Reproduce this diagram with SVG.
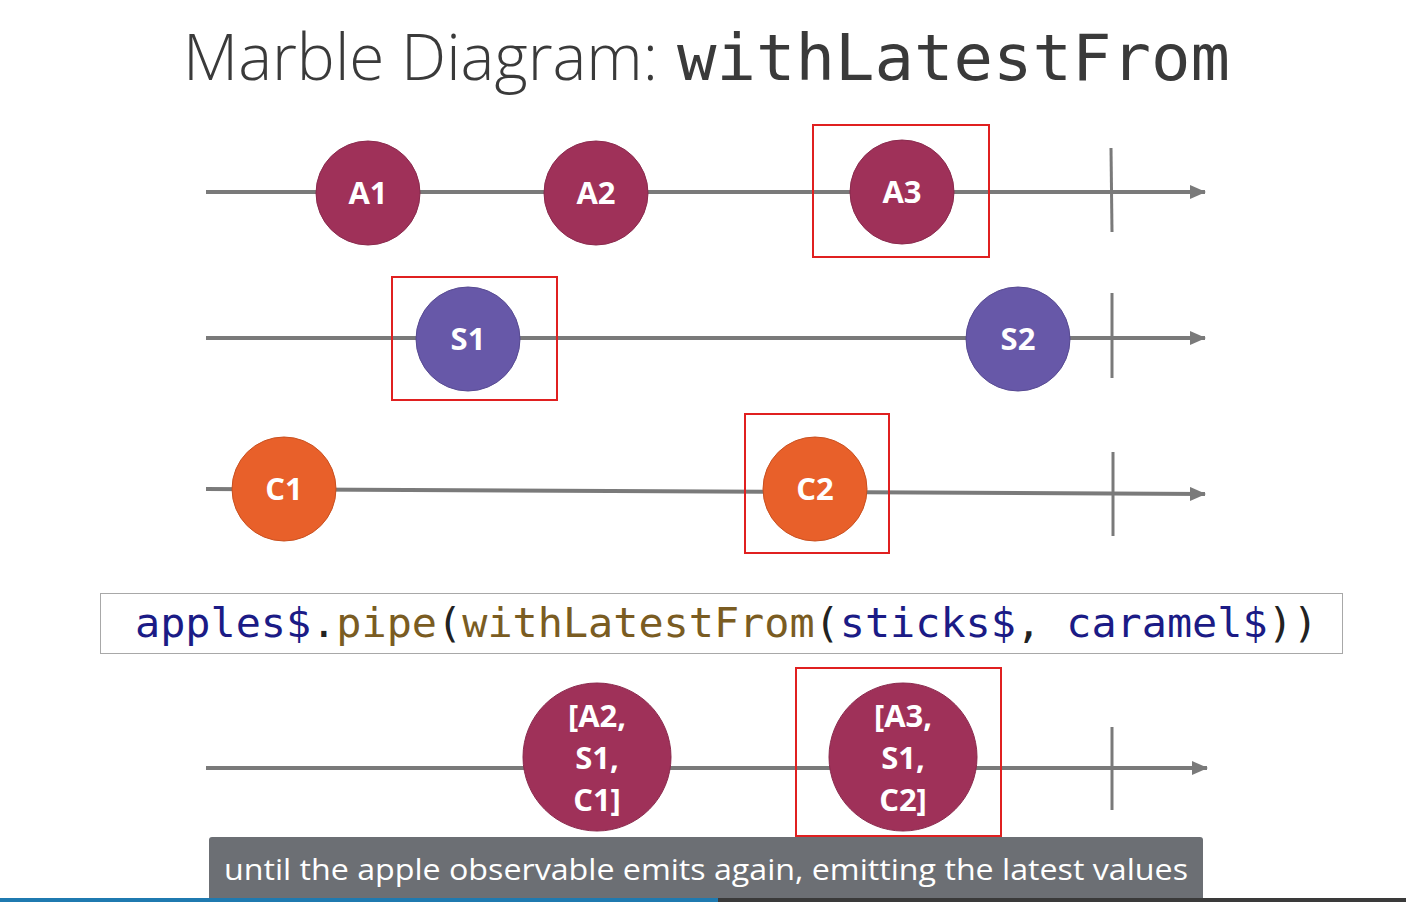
<svg xmlns="http://www.w3.org/2000/svg" width="1406" height="902" viewBox="0 0 1406 902">
<style>
.line{stroke:#7a7a7a;stroke-width:4;fill:none}
.tick{stroke:#7a7a7a;stroke-width:3;fill:none}
.hl{fill:none;stroke:#e02020;stroke-width:2}
.apple{fill:#9f3159;stroke:#8a2a4d;stroke-width:1}
.stick{fill:#6758a8;stroke:#574a92;stroke-width:1}
.caramel{fill:#e8602a;stroke:#c9501f;stroke-width:1}
.lbl{font-family:"Open Sans","Liberation Sans",sans-serif;font-weight:700;font-size:31px;fill:#fff;text-anchor:middle}
.code{font-family:"DejaVu Sans Mono","Liberation Mono",monospace;font-size:41px}
</style>
<defs>
<marker id="arr" markerWidth="16" markerHeight="14" refX="15" refY="7" orient="auto" markerUnits="userSpaceOnUse">
<path d="M0,0 L16,7 L0,14 Z" fill="#7a7a7a"/>
</marker>
</defs>
<rect width="1406" height="902" fill="#ffffff"/>
<g id="title">
<text x="183" y="80" font-family="Open Sans, Liberation Sans, sans-serif" font-weight="300" font-size="64" fill="#3a3a3a" textLength="475" lengthAdjust="spacingAndGlyphs">Marble Diagram:</text>
<text x="677" y="80" font-family="DejaVu Sans Mono, Liberation Mono, monospace" font-size="64" fill="#3a3a3a" textLength="553" lengthAdjust="spacingAndGlyphs">withLatestFrom</text>
</g>
<g id="connectors">
<line class="line" x1="206" y1="192" x2="1205" y2="192" marker-end="url(#arr)"/>
<line class="tick" x1="1111" y1="148" x2="1112" y2="232"/>
<line class="line" x1="206" y1="338" x2="1205" y2="338" marker-end="url(#arr)"/>
<line class="tick" x1="1112" y1="293" x2="1112" y2="378"/>
<line class="line" x1="206" y1="489" x2="1205" y2="494" marker-end="url(#arr)"/>
<line class="tick" x1="1113" y1="452" x2="1113" y2="536"/>
<line class="line" x1="206" y1="768" x2="1207" y2="768" marker-end="url(#arr)"/>
<line class="tick" x1="1112" y1="727" x2="1112" y2="810"/>
</g>
<g id="A1"><circle class="apple" cx="368" cy="193" r="52"/><text class="lbl" x="368" y="204">A1</text></g>
<g id="A2"><circle class="apple" cx="596" cy="193" r="52"/><text class="lbl" x="596" y="204">A2</text></g>
<g id="A3"><circle class="apple" cx="902" cy="192" r="52"/><text class="lbl" x="902" y="203">A3</text></g>
<g id="S1"><circle class="stick" cx="468" cy="339" r="52"/><text class="lbl" x="468" y="350">S1</text></g>
<g id="S2"><circle class="stick" cx="1018" cy="339" r="52"/><text class="lbl" x="1018" y="350">S2</text></g>
<g id="C1"><circle class="caramel" cx="284" cy="489" r="52"/><text class="lbl" x="284" y="500">C1</text></g>
<g id="C2"><circle class="caramel" cx="815" cy="489" r="52"/><text class="lbl" x="815" y="500">C2</text></g>
<g id="R1"><circle class="apple" cx="597" cy="757" r="74"/>
<text class="lbl" x="597" y="727" font-size="33">[A2,</text>
<text class="lbl" x="597" y="769" font-size="33">S1,</text>
<text class="lbl" x="597" y="811" font-size="33">C1]</text></g>
<g id="R2"><circle class="apple" cx="903" cy="757" r="74"/>
<text class="lbl" x="903" y="727" font-size="33">[A3,</text>
<text class="lbl" x="903" y="769" font-size="33">S1,</text>
<text class="lbl" x="903" y="811" font-size="33">C2]</text></g>
<g id="highlights">
<rect class="hl" x="813" y="125" width="176" height="132"/>
<rect class="hl" x="392" y="277" width="165" height="123"/>
<rect class="hl" x="745" y="414" width="144" height="139"/>
<rect class="hl" x="796" y="668" width="205" height="168"/>
</g>
<g id="code">
<rect x="100.5" y="593.5" width="1242" height="60" fill="#fff" stroke="#a8a8a8" stroke-width="1"/>
<text class="code" x="135" y="637" textLength="1183" lengthAdjust="spacingAndGlyphs"><tspan fill="#1b1b86">apples$</tspan><tspan fill="#222">.</tspan><tspan fill="#7a5c22">pipe</tspan><tspan fill="#222">(</tspan><tspan fill="#7a5c22">withLatestFrom</tspan><tspan fill="#222">(</tspan><tspan fill="#1b1b86">sticks$</tspan><tspan fill="#222">, </tspan><tspan fill="#1b1b86">caramel$</tspan><tspan fill="#222">))</tspan></text>
</g>
<g id="caption">
<rect x="209" y="837" width="994" height="65" rx="3" fill="#6c6f74"/>
<text x="224" y="880" font-family="Open Sans, Liberation Sans, sans-serif" font-size="30" fill="#ffffff" textLength="964" lengthAdjust="spacingAndGlyphs">until the apple observable emits again, emitting the latest values</text>
</g>
<g id="progress">
<rect x="0" y="898" width="1406" height="4" fill="#3a3a3a"/>
<rect x="0" y="898" width="718" height="4" fill="#1f7ab0"/>
</g>
</svg>
